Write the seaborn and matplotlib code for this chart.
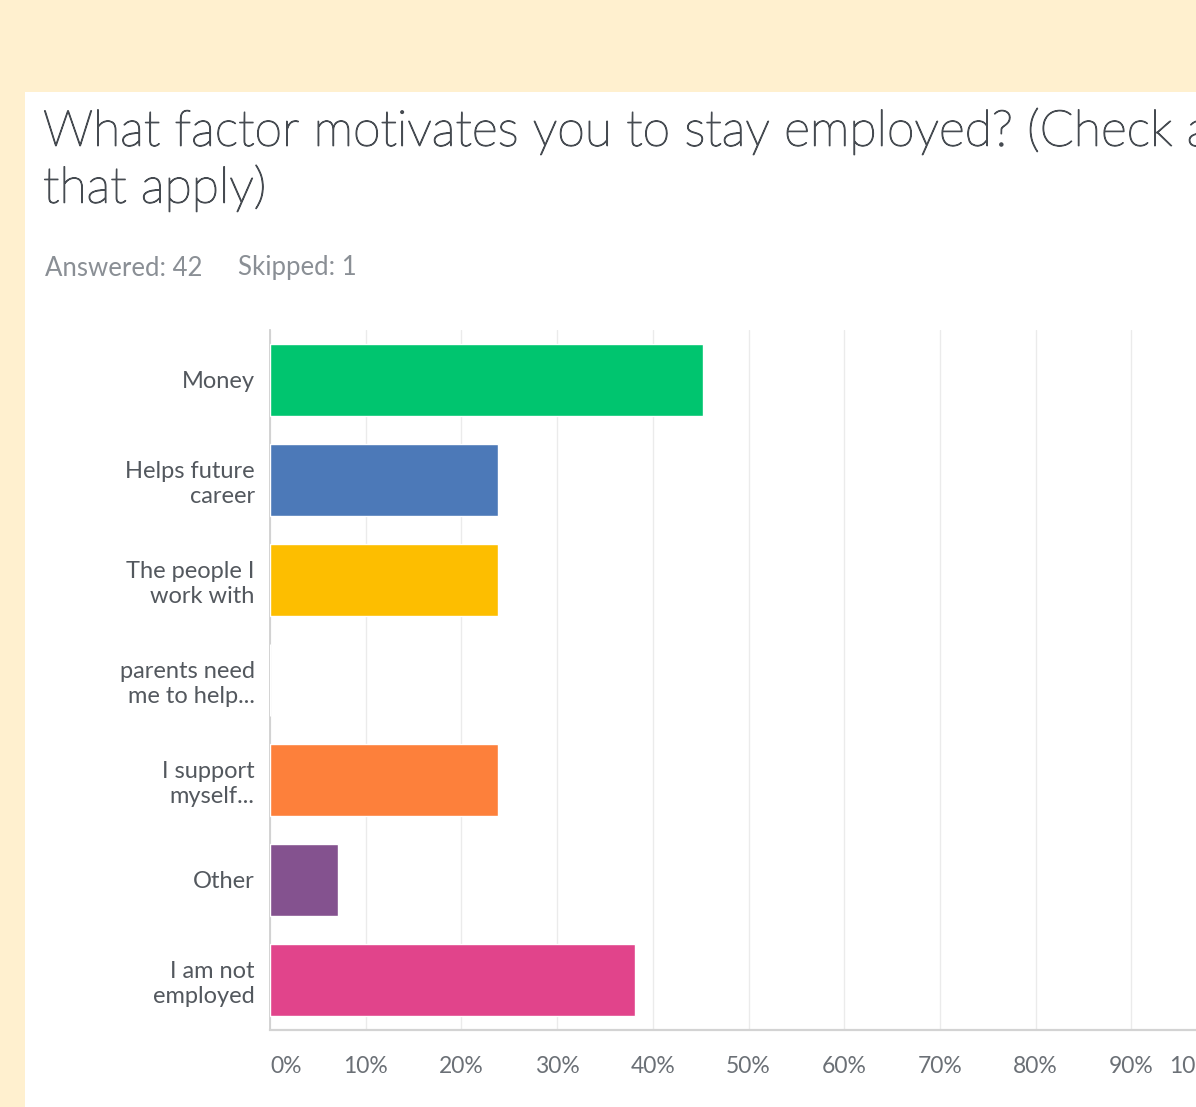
import matplotlib
matplotlib.use("Agg")
import matplotlib.pyplot as plt
import matplotlib.patheffects as pe
from matplotlib.patches import Rectangle
import seaborn as sns
import pandas as pd

# Survey responses (share of 42 respondents)
categories = [
    "Money",
    "Helps future\ncareer",
    "The people I\nwork with",
    "parents need\nme to help...",
    "I support\nmyself...",
    "Other",
    "I am not\nemployed",
]
percentages = [45.24, 23.81, 23.81, 0.0, 23.81, 7.14, 38.10]
bar_colors = ["#00C56F", "#4C79B8", "#FDBE00", "#6BC8CD", "#FD803B", "#84528F", "#E1448B"]
tick_values = list(range(0, 101, 10))
tick_labels = [f"{v}%" for v in tick_values]

title_text = "What factor motivates you to stay employed? (Check all\nthat apply)"
answered_text = "Answered: 42"
skipped_text = "Skipped: 1"

sns.set_theme(style="white")
plt.rcParams["font.family"] = ["Lato", "DejaVu Sans"]

W, H = 1196, 1107
fig = plt.figure(figsize=(W / 100, H / 100), dpi=100)
fig.patch.set_facecolor("#FFF0CF")

# white card behind the question
fig.add_artist(Rectangle((25 / W, 0), 1 - 25 / W, 1 - 92 / H,
                         transform=fig.transFigure, facecolor="white",
                         edgecolor="none", zorder=0))

ax = fig.add_axes([270 / W, 1 - 1030 / H, 957 / W, 700 / H])
ax.set_facecolor("white")

df = pd.DataFrame({"category": categories, "pct": percentages})
sns.barplot(data=df, x="pct", y="category", hue="category",
            palette=bar_colors, legend=False, orient="h",
            width=0.72, saturation=1, ax=ax, zorder=3)

ax.set_xlim(0, 100)
ax.set_ylim(6.5, -0.5)
ax.set_xticks(tick_values)
ax.set_xticklabels(tick_labels)
ax.set_xlabel("")
ax.set_ylabel("")

ax.grid(axis="x", color="#EBEBEB", linewidth=1.0, zorder=0)
ax.grid(axis="y", visible=False)
for side in ["top", "right"]:
    ax.spines[side].set_visible(False)
ax.spines["left"].set_color("#D0D0D0")
ax.spines["bottom"].set_color("#D3D3D3")
ax.spines["left"].set_linewidth(1.3)
ax.spines["bottom"].set_linewidth(1.6)

ax.tick_params(axis="x", length=0, pad=19, labelsize=16.5, labelcolor="#6B7076")
ax.tick_params(axis="y", length=0, pad=11, labelsize=17, labelcolor="#53585E")
for lbl in ax.get_yticklabels():
    lbl.set_linespacing(1.25)
xt = ax.get_xticklabels()
xt[0].set_horizontalalignment("left")
xt[-1].set_horizontalalignment("right")

title_color = "#464B51"
fig.text(43 / W, 1 - 108 / H, title_text, ha="left", va="top",
         fontsize=36, fontweight="light", color=title_color, linespacing=1.27,
         path_effects=[pe.withStroke(linewidth=0.9, foreground=title_color)])
fig.text(45 / W, 1 - 268 / H, answered_text, ha="left", va="center",
         fontsize=18.5, color="#8A8F95")
fig.text(238 / W, 1 - 268 / H, skipped_text, ha="left", va="center",
         fontsize=18.5, color="#8A8F95")

fig.savefig("out.png", dpi=100, facecolor=fig.get_facecolor())
